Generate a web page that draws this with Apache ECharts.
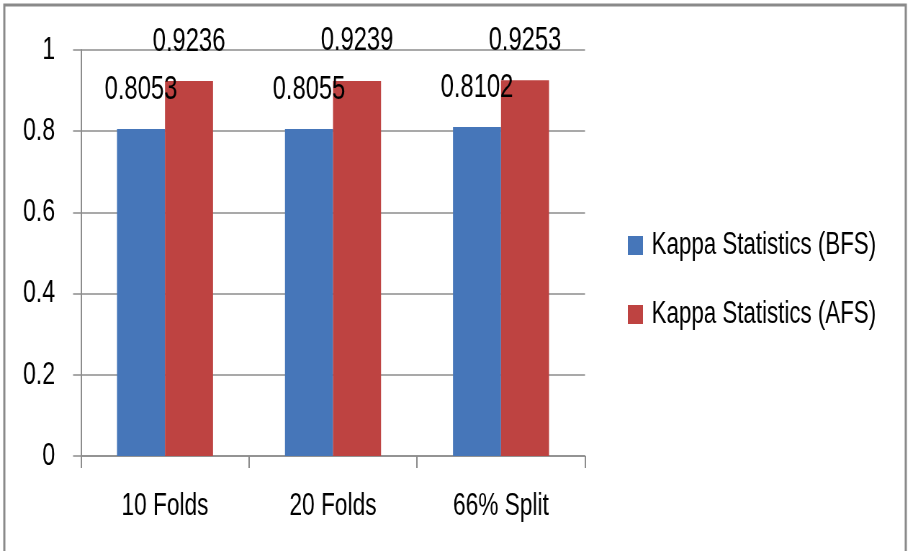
<!DOCTYPE html>
<html>
<head>
<meta charset="utf-8">
<script src="https://cdn.jsdelivr.net/npm/echarts@6/dist/echarts.min.js"></script>
<style>
  html, body { margin: 0; padding: 0; background: #fff; overflow: hidden; }
  /* The chart is laid out wider and squeezed horizontally so the
     typography comes out tall and narrow. */
  #wrap { width: 908px; height: 551px; overflow: hidden; }
  #chart { width: 1261px; height: 551px; transform: scaleX(0.72); transform-origin: 0 0; }
</style>
</head>
<body>
<div id="wrap"><div id="chart"></div></div>
<script>
// Kappa statistics before / after feature selection, per evaluation mode
const categories = ['10 Folds', '20 Folds', '66% Split'];
const kappaBFS = [0.8053, 0.8055, 0.8102];
const kappaAFS = [0.9236, 0.9239, 0.9253];
const seriesNames = ['Kappa Statistics (BFS)', 'Kappa Statistics (AFS)'];
const yTicks = [0, 0.2, 0.4, 0.6, 0.8, 1];

const FONT = "'Liberation Sans', Arial, sans-serif";
const GRAY = '#8c8c8c';

const chart = echarts.init(document.getElementById('chart'), null, { renderer: 'canvas' });

const valueLabel = {
  show: true, position: 'top', distance: 23,
  fontFamily: FONT, fontSize: 33, color: '#000',
  formatter: p => p.value.toFixed(4)
};

chart.setOption({
  backgroundColor: '#ffffff',
  animation: false,
  textStyle: { fontFamily: FONT, color: '#000' },
  graphic: [{
    type: 'polyline',
    shape: { points: [[6, 551], [6, 5], [1258, 5], [1258, 551]] },
    style: { stroke: '#8a8a8a', lineWidth: 3, fill: null },
    silent: true
  }],
  grid: { left: 112.5, right: 448.5, top: 50, bottom: 95, containLabel: false },
  legend: {
    orient: 'vertical',
    left: 872,
    top: 230,
    padding: 0,
    itemWidth: 21,
    itemHeight: 19,
    itemGap: 38,
    icon: 'rect',
    data: seriesNames,
    textStyle: { fontFamily: FONT, fontSize: 31, color: '#000', padding: [0, 0, 0, 7] }
  },
  xAxis: {
    type: 'category',
    data: categories,
    boundaryGap: true,
    axisLine: { lineStyle: { color: GRAY, width: 1.5 } },
    axisTick: { show: true, length: 12, lineStyle: { color: GRAY, width: 2 } },
    axisLabel: { fontFamily: FONT, fontSize: 31.5, color: '#000', margin: 34 },
    splitLine: { show: false }
  },
  yAxis: {
    type: 'value',
    min: 0,
    max: 1,
    interval: 0.2,
    axisLine: { show: true, lineStyle: { color: GRAY, width: 2 } },
    axisTick: { show: true, length: 11, lineStyle: { color: GRAY, width: 1.5 } },
    axisLabel: {
      fontFamily: FONT, fontSize: 32, color: '#000', margin: 36,
      formatter: v => {
        const t = yTicks.find(k => Math.abs(k - v) < 1e-9);
        return t === undefined ? '' : String(t);
      }
    },
    splitLine: { show: true, lineStyle: { color: GRAY, width: 1.5 } }
  },
  series: [
    {
      name: seriesNames[0],
      type: 'bar',
      data: kappaBFS,
      barWidth: 66.7,
      barGap: '0%',
      itemStyle: { color: '#4676B9' },
      label: valueLabel
    },
    {
      name: seriesNames[1],
      type: 'bar',
      data: kappaAFS,
      barWidth: 66.7,
      barGap: '0%',
      itemStyle: { color: '#BE4341' },
      label: valueLabel
    }
  ]
});
</script>
</body>
</html>
